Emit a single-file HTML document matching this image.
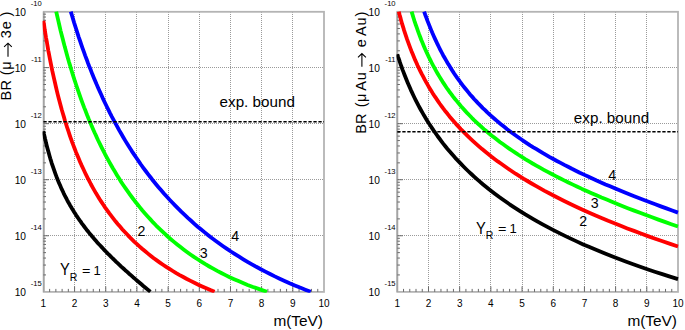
<!DOCTYPE html><html><head><meta charset="utf-8"><style>html,body{margin:0;padding:0;background:#fff;overflow:hidden}svg{display:block}</style></head><body>
<svg width="685" height="330" viewBox="0 0 685 330" font-family='"Liberation Sans", sans-serif'>
<rect width="685" height="330" fill="#fff"/>
<defs>
<clipPath id="cL"><rect x="42.60" y="10.8" width="282.20" height="282.00"/></clipPath>
<clipPath id="cR"><rect x="396.50" y="10.8" width="282.30" height="282.00"/></clipPath>
</defs>
<path d="M74.5 12V292M105.5 12V292M136.5 12V292M168.5 12V292M199.5 12V292M230.5 12V292M261.5 12V292M292.5 12V292M44 67.5H324.0M44 123.5H324.0M44 179.5H324.0M44 235.5H324.0" stroke="#9a9a9a" stroke-width="1" stroke-dasharray="1 1" fill="none"/>
<rect x="43.699999999999996" y="11.8" width="280.30" height="280.10" fill="none" stroke="#b4b4b4" stroke-width="1.8"/>
<path d="M43.699999999999996 11.8V291.9" stroke="#a4a4a4" stroke-width="1.6"/>
<path d="M49.64 291.9v-3M55.87 291.9v-3M62.11 291.9v-3M68.34 291.9v-3M80.81 291.9v-3M87.05 291.9v-3M93.28 291.9v-3M99.52 291.9v-3M111.99 291.9v-3M118.23 291.9v-3M124.46 291.9v-3M130.70 291.9v-3M143.17 291.9v-3M149.40 291.9v-3M155.64 291.9v-3M161.88 291.9v-3M174.35 291.9v-3M180.58 291.9v-3M186.82 291.9v-3M193.05 291.9v-3M205.52 291.9v-3M211.76 291.9v-3M218.00 291.9v-3M224.23 291.9v-3M236.70 291.9v-3M242.94 291.9v-3M249.17 291.9v-3M255.41 291.9v-3M267.88 291.9v-3M274.12 291.9v-3M280.35 291.9v-3M286.59 291.9v-3M299.06 291.9v-3M305.29 291.9v-3M311.53 291.9v-3M317.76 291.9v-3M74.58 291.9v-5.5M105.76 291.9v-5.5M136.93 291.9v-5.5M168.11 291.9v-5.5M199.29 291.9v-5.5M230.47 291.9v-5.5M261.64 291.9v-5.5M292.82 291.9v-5.5M43.4 274.93h2.6M43.4 265.06h2.6M43.4 258.06h2.6M43.4 252.63h2.6M43.4 248.19h2.6M43.4 244.44h2.6M43.4 241.19h2.6M43.4 238.32h2.6M43.4 218.89h2.6M43.4 209.02h2.6M43.4 202.02h2.6M43.4 196.59h2.6M43.4 192.15h2.6M43.4 188.40h2.6M43.4 185.15h2.6M43.4 182.28h2.6M43.4 162.85h2.6M43.4 152.98h2.6M43.4 145.98h2.6M43.4 140.55h2.6M43.4 136.11h2.6M43.4 132.36h2.6M43.4 129.11h2.6M43.4 126.24h2.6M43.4 106.81h2.6M43.4 96.94h2.6M43.4 89.94h2.6M43.4 84.51h2.6M43.4 80.07h2.6M43.4 76.32h2.6M43.4 73.07h2.6M43.4 70.20h2.6M43.4 50.77h2.6M43.4 40.90h2.6M43.4 33.90h2.6M43.4 28.47h2.6M43.4 24.03h2.6M43.4 20.28h2.6M43.4 17.03h2.6M43.4 14.16h2.6M43.4 235.76h5.5M43.4 179.72h5.5M43.4 123.68h5.5M43.4 67.64h5.5" stroke="#6a6a6a" stroke-width="1" fill="none"/>
<g clip-path="url(#cL)" fill="none" stroke-width="3.8" stroke-linejoin="round">
<path d="M43.4 131.2 L43.9 133.7 L44.5 136.1 L45.0 138.5 L45.6 140.8 L46.1 143.1 L46.7 145.4 L47.3 147.7 L47.9 149.9 L48.5 152.1 L49.1 154.3 L49.7 156.5 L50.3 158.6 L51.0 160.7 L51.6 162.8 L52.3 164.9 L53.0 166.9 L53.7 168.9 L54.4 170.9 L55.1 172.9 L55.8 174.8 L56.5 176.7 L57.3 178.7 L58.0 180.5 L58.8 182.4 L59.6 184.3 L60.4 186.1 L61.2 187.9 L62.0 189.7 L62.9 191.5 L63.7 193.3 L64.6 195.1 L65.5 196.8 L66.4 198.5 L67.3 200.3 L68.2 202.0 L69.2 203.7 L70.1 205.4 L71.1 207.0 L72.1 208.7 L73.1 210.3 L74.1 212.0 L75.2 213.6 L76.2 215.3 L77.3 216.9 L78.4 218.5 L79.5 220.1 L80.7 221.7 L81.8 223.3 L83.0 224.9 L84.2 226.5 L85.4 228.1 L86.6 229.7 L87.9 231.3 L89.2 232.9 L90.5 234.4 L91.8 236.0 L93.1 237.6 L94.5 239.2 L95.9 240.8 L97.3 242.4 L98.7 244.0 L100.2 245.5 L101.7 247.1 L103.2 248.7 L104.7 250.4 L106.3 252.0 L107.8 253.6 L109.5 255.2 L111.1 256.8 L112.8 258.5 L114.5 260.1 L116.2 261.8 L117.9 263.4 L119.7 265.1 L121.5 266.8 L123.4 268.5 L125.2 270.2 L127.2 271.9 L129.1 273.7 L131.1 275.4 L133.1 277.2 L135.1 278.9 L137.2 280.7 L139.3 282.5 L141.4 284.3 L143.6 286.2 L145.8 288.0 L148.1 289.9 L150.4 291.8" stroke="#000"/>
<path d="M43.4 20.8 L44.1 25.1 L44.7 29.4 L45.4 33.7 L46.1 38.0 L46.9 42.2 L47.6 46.4 L48.3 50.6 L49.1 54.7 L49.9 58.8 L50.7 62.9 L51.5 66.9 L52.3 70.9 L53.2 74.9 L54.1 78.9 L55.0 82.8 L55.9 86.7 L56.8 90.6 L57.7 94.4 L58.7 98.3 L59.7 102.0 L60.7 105.8 L61.7 109.5 L62.8 113.2 L63.9 116.9 L64.9 120.5 L66.1 124.1 L67.2 127.7 L68.4 131.2 L69.6 134.8 L70.8 138.3 L72.0 141.7 L73.3 145.1 L74.6 148.5 L75.9 151.9 L77.3 155.3 L78.7 158.6 L80.1 161.9 L81.5 165.1 L83.0 168.3 L84.5 171.5 L86.0 174.7 L87.6 177.8 L89.2 180.9 L90.8 184.0 L92.5 187.1 L94.2 190.1 L95.9 193.1 L97.7 196.0 L99.5 199.0 L101.4 201.9 L103.3 204.7 L105.2 207.6 L107.2 210.4 L109.2 213.2 L111.3 215.9 L113.4 218.6 L115.5 221.3 L117.7 224.0 L120.0 226.6 L122.2 229.2 L124.6 231.8 L127.0 234.3 L129.4 236.9 L131.9 239.3 L134.4 241.8 L137.0 244.2 L139.7 246.6 L142.4 249.0 L145.2 251.3 L148.0 253.6 L150.9 255.9 L153.8 258.2 L156.8 260.4 L159.9 262.6 L163.0 264.7 L166.2 266.8 L169.5 268.9 L172.8 271.0 L176.2 273.1 L179.7 275.1 L183.3 277.0 L186.9 279.0 L190.6 280.9 L194.4 282.8 L198.3 284.7 L202.2 286.5 L206.3 288.3 L210.4 290.1 L214.6 291.8" stroke="#f00"/>
<path d="M56.2 11.6 L57.1 15.5 L58.0 19.4 L58.9 23.3 L59.8 27.2 L60.7 31.1 L61.7 35.0 L62.7 38.8 L63.7 42.7 L64.7 46.6 L65.8 50.5 L66.8 54.3 L67.9 58.2 L69.0 62.1 L70.2 65.9 L71.3 69.8 L72.5 73.6 L73.7 77.4 L74.9 81.2 L76.2 85.0 L77.5 88.8 L78.8 92.6 L80.1 96.4 L81.4 100.1 L82.8 103.9 L84.2 107.6 L85.7 111.3 L87.1 115.0 L88.6 118.7 L90.2 122.4 L91.7 126.1 L93.3 129.7 L94.9 133.3 L96.6 136.9 L98.2 140.5 L100.0 144.1 L101.7 147.6 L103.5 151.2 L105.3 154.7 L107.2 158.1 L109.1 161.6 L111.0 165.0 L113.0 168.5 L115.0 171.8 L117.0 175.2 L119.1 178.6 L121.2 181.9 L123.4 185.2 L125.6 188.4 L127.9 191.7 L130.2 194.9 L132.5 198.0 L134.9 201.2 L137.4 204.3 L139.9 207.4 L142.4 210.5 L145.0 213.5 L147.7 216.5 L150.4 219.4 L153.1 222.4 L155.9 225.3 L158.8 228.1 L161.7 230.9 L164.7 233.7 L167.7 236.5 L170.8 239.2 L174.0 241.9 L177.2 244.5 L180.5 247.1 L183.9 249.7 L187.3 252.2 L190.8 254.7 L194.3 257.1 L198.0 259.5 L201.7 261.9 L205.4 264.2 L209.3 266.5 L213.2 268.7 L217.2 270.9 L221.3 273.0 L225.5 275.1 L229.7 277.2 L234.1 279.2 L238.5 281.1 L243.0 283.0 L247.6 284.9 L252.3 286.7 L257.1 288.4 L262.0 290.1 L266.9 291.8" stroke="#0f0"/>
<path d="M70.8 11.6 L71.9 15.3 L73.0 18.9 L74.1 22.6 L75.3 26.3 L76.5 30.0 L77.6 33.6 L78.8 37.3 L80.1 41.0 L81.3 44.6 L82.6 48.3 L83.9 51.9 L85.2 55.6 L86.6 59.2 L87.9 62.9 L89.3 66.5 L90.8 70.1 L92.2 73.8 L93.7 77.4 L95.2 81.0 L96.7 84.6 L98.3 88.2 L99.9 91.8 L101.5 95.3 L103.1 98.9 L104.8 102.5 L106.5 106.0 L108.3 109.6 L110.0 113.1 L111.8 116.6 L113.7 120.1 L115.6 123.6 L117.5 127.1 L119.4 130.6 L121.4 134.0 L123.4 137.5 L125.4 140.9 L127.5 144.3 L129.7 147.7 L131.8 151.1 L134.0 154.4 L136.3 157.8 L138.6 161.1 L140.9 164.5 L143.3 167.8 L145.7 171.0 L148.2 174.3 L150.7 177.5 L153.2 180.8 L155.8 184.0 L158.5 187.2 L161.2 190.3 L163.9 193.5 L166.7 196.6 L169.6 199.7 L172.5 202.8 L175.5 205.9 L178.5 208.9 L181.5 211.9 L184.7 214.9 L187.8 217.9 L191.1 220.8 L194.4 223.8 L197.7 226.7 L201.2 229.5 L204.7 232.4 L208.2 235.2 L211.8 238.0 L215.5 240.7 L219.3 243.5 L223.1 246.2 L227.0 248.9 L230.9 251.5 L235.0 254.1 L239.1 256.7 L243.3 259.3 L247.5 261.8 L251.9 264.3 L256.3 266.8 L260.8 269.2 L265.4 271.6 L270.1 274.0 L274.8 276.4 L279.7 278.7 L284.6 280.9 L289.6 283.2 L294.8 285.4 L300.0 287.6 L305.3 289.7 L310.7 291.8" stroke="#00f"/>
</g>
<path d="M428.5 12V292M459.5 12V292M490.5 12V292M522.5 12V292M553.5 12V292M584.5 12V292M615.5 12V292M646.5 12V292M398 67.5H678.0M398 123.5H678.0M398 179.5H678.0M398 235.5H678.0" stroke="#9a9a9a" stroke-width="1" stroke-dasharray="1 1" fill="none"/>
<rect x="397.3" y="11.8" width="280.70" height="280.10" fill="none" stroke="#b4b4b4" stroke-width="1.8"/>
<path d="M397.3 11.8V291.9" stroke="#a4a4a4" stroke-width="1.6"/>
<path d="M403.54 291.9v-3M409.78 291.9v-3M416.01 291.9v-3M422.25 291.9v-3M434.73 291.9v-3M440.96 291.9v-3M447.20 291.9v-3M453.44 291.9v-3M465.92 291.9v-3M472.15 291.9v-3M478.39 291.9v-3M484.63 291.9v-3M497.10 291.9v-3M503.34 291.9v-3M509.58 291.9v-3M515.82 291.9v-3M528.29 291.9v-3M534.53 291.9v-3M540.77 291.9v-3M547.01 291.9v-3M559.48 291.9v-3M565.72 291.9v-3M571.96 291.9v-3M578.20 291.9v-3M590.67 291.9v-3M596.91 291.9v-3M603.15 291.9v-3M609.38 291.9v-3M621.86 291.9v-3M628.10 291.9v-3M634.34 291.9v-3M640.57 291.9v-3M653.05 291.9v-3M659.29 291.9v-3M665.52 291.9v-3M671.76 291.9v-3M428.49 291.9v-5.5M459.68 291.9v-5.5M490.87 291.9v-5.5M522.06 291.9v-5.5M553.24 291.9v-5.5M584.43 291.9v-5.5M615.62 291.9v-5.5M646.81 291.9v-5.5M397.3 274.93h2.6M397.3 265.06h2.6M397.3 258.06h2.6M397.3 252.63h2.6M397.3 248.19h2.6M397.3 244.44h2.6M397.3 241.19h2.6M397.3 238.32h2.6M397.3 218.89h2.6M397.3 209.02h2.6M397.3 202.02h2.6M397.3 196.59h2.6M397.3 192.15h2.6M397.3 188.40h2.6M397.3 185.15h2.6M397.3 182.28h2.6M397.3 162.85h2.6M397.3 152.98h2.6M397.3 145.98h2.6M397.3 140.55h2.6M397.3 136.11h2.6M397.3 132.36h2.6M397.3 129.11h2.6M397.3 126.24h2.6M397.3 106.81h2.6M397.3 96.94h2.6M397.3 89.94h2.6M397.3 84.51h2.6M397.3 80.07h2.6M397.3 76.32h2.6M397.3 73.07h2.6M397.3 70.20h2.6M397.3 50.77h2.6M397.3 40.90h2.6M397.3 33.90h2.6M397.3 28.47h2.6M397.3 24.03h2.6M397.3 20.28h2.6M397.3 17.03h2.6M397.3 14.16h2.6M397.3 235.76h5.5M397.3 179.72h5.5M397.3 123.68h5.5M397.3 67.64h5.5" stroke="#6a6a6a" stroke-width="1" fill="none"/>
<g clip-path="url(#cR)" fill="none" stroke-width="3.8" stroke-linejoin="round">
<path d="M397.3 54.2 L398.1 56.8 L399.0 59.3 L399.8 61.9 L400.7 64.5 L401.6 67.0 L402.5 69.6 L403.5 72.1 L404.5 74.7 L405.5 77.3 L406.5 79.8 L407.6 82.4 L408.7 84.9 L409.8 87.5 L410.9 90.1 L412.1 92.6 L413.3 95.2 L414.5 97.7 L415.8 100.3 L417.1 102.8 L418.4 105.4 L419.8 108.0 L421.2 110.5 L422.7 113.1 L424.1 115.6 L425.7 118.2 L427.2 120.7 L428.8 123.3 L430.5 125.8 L432.2 128.4 L433.9 130.9 L435.7 133.4 L437.5 136.0 L439.4 138.5 L441.3 141.1 L443.2 143.6 L445.3 146.2 L447.3 148.7 L449.5 151.2 L451.7 153.8 L453.9 156.3 L456.2 158.9 L458.6 161.4 L461.0 163.9 L463.5 166.5 L466.0 169.0 L468.6 171.5 L471.3 174.0 L474.1 176.6 L476.9 179.1 L479.8 181.6 L482.8 184.2 L485.9 186.7 L489.0 189.2 L492.2 191.7 L495.5 194.2 L498.9 196.8 L502.4 199.3 L506.0 201.8 L509.6 204.3 L513.4 206.8 L517.3 209.3 L521.2 211.8 L525.3 214.4 L529.5 216.9 L533.7 219.4 L538.1 221.9 L542.6 224.4 L547.3 226.9 L552.0 229.4 L556.9 231.9 L561.9 234.4 L567.0 236.9 L572.3 239.4 L577.7 241.9 L583.2 244.4 L588.9 246.8 L594.8 249.3 L600.8 251.8 L606.9 254.3 L613.2 256.8 L619.7 259.3 L626.3 261.7 L633.2 264.2 L640.2 266.7 L647.3 269.2 L654.7 271.7 L662.3 274.1 L670.0 276.6 L678.0 279.1" stroke="#000"/>
<path d="M398.8 11.6 L399.6 14.8 L400.5 17.9 L401.3 21.1 L402.2 24.2 L403.2 27.3 L404.1 30.4 L405.1 33.4 L406.1 36.4 L407.1 39.4 L408.2 42.4 L409.3 45.4 L410.4 48.3 L411.5 51.2 L412.7 54.1 L413.9 57.0 L415.1 59.9 L416.4 62.7 L417.6 65.5 L419.0 68.4 L420.3 71.1 L421.7 73.9 L423.2 76.7 L424.6 79.4 L426.1 82.1 L427.7 84.9 L429.2 87.6 L430.9 90.2 L432.5 92.9 L434.2 95.6 L436.0 98.2 L437.8 100.8 L439.6 103.5 L441.5 106.1 L443.4 108.7 L445.4 111.3 L447.5 113.8 L449.5 116.4 L451.7 119.0 L453.9 121.5 L456.1 124.1 L458.5 126.6 L460.8 129.1 L463.3 131.6 L465.8 134.1 L468.3 136.6 L470.9 139.1 L473.6 141.6 L476.4 144.1 L479.2 146.6 L482.1 149.1 L485.1 151.5 L488.2 154.0 L491.3 156.5 L494.5 158.9 L497.8 161.4 L501.2 163.8 L504.7 166.3 L508.2 168.7 L511.9 171.2 L515.6 173.7 L519.5 176.1 L523.4 178.6 L527.4 181.0 L531.6 183.5 L535.8 185.9 L540.2 188.4 L544.6 190.9 L549.2 193.3 L553.9 195.8 L558.8 198.3 L563.7 200.7 L568.8 203.2 L574.0 205.7 L579.3 208.2 L584.8 210.7 L590.4 213.2 L596.2 215.7 L602.1 218.2 L608.1 220.8 L614.4 223.3 L620.7 225.8 L627.3 228.4 L634.0 230.9 L640.9 233.5 L647.9 236.1 L655.2 238.7 L662.6 241.3 L670.2 243.9 L678.0 246.5" stroke="#f00"/>
<path d="M411.6 11.6 L412.6 14.9 L413.6 18.2 L414.6 21.4 L415.7 24.6 L416.8 27.7 L417.9 30.8 L419.0 33.9 L420.2 37.0 L421.3 40.0 L422.6 43.0 L423.8 45.9 L425.0 48.8 L426.3 51.7 L427.7 54.6 L429.0 57.4 L430.4 60.2 L431.8 63.0 L433.2 65.7 L434.7 68.4 L436.2 71.1 L437.7 73.7 L439.3 76.4 L440.9 79.0 L442.5 81.6 L444.2 84.1 L445.9 86.7 L447.6 89.2 L449.4 91.7 L451.3 94.1 L453.1 96.6 L455.0 99.0 L457.0 101.4 L459.0 103.8 L461.0 106.2 L463.1 108.6 L465.2 110.9 L467.3 113.2 L469.6 115.5 L471.8 117.8 L474.1 120.1 L476.5 122.3 L478.9 124.6 L481.4 126.8 L483.9 129.1 L486.5 131.3 L489.1 133.5 L491.8 135.7 L494.6 137.8 L497.4 140.0 L500.2 142.2 L503.2 144.3 L506.2 146.5 L509.2 148.6 L512.4 150.8 L515.6 152.9 L518.8 155.0 L522.2 157.1 L525.6 159.3 L529.1 161.4 L532.6 163.5 L536.3 165.6 L540.0 167.7 L543.8 169.8 L547.7 171.9 L551.7 174.0 L555.7 176.1 L559.9 178.3 L564.1 180.4 L568.4 182.5 L572.9 184.6 L577.4 186.7 L582.0 188.9 L586.7 191.0 L591.6 193.2 L596.5 195.3 L601.5 197.5 L606.7 199.6 L611.9 201.8 L617.3 204.0 L622.8 206.2 L628.4 208.4 L634.2 210.6 L640.0 212.8 L646.0 215.1 L652.1 217.3 L658.4 219.6 L664.8 221.9 L671.3 224.2 L678.0 226.5" stroke="#0f0"/>
<path d="M424.1 11.6 L425.2 14.7 L426.4 17.8 L427.5 20.9 L428.7 23.9 L429.9 26.9 L431.1 29.9 L432.3 32.8 L433.6 35.7 L434.9 38.6 L436.2 41.4 L437.5 44.2 L438.9 47.0 L440.3 49.8 L441.7 52.5 L443.1 55.2 L444.6 57.8 L446.1 60.4 L447.6 63.0 L449.2 65.6 L450.8 68.2 L452.4 70.7 L454.0 73.2 L455.7 75.7 L457.4 78.1 L459.2 80.5 L460.9 83.0 L462.7 85.3 L464.6 87.7 L466.5 90.0 L468.4 92.4 L470.3 94.7 L472.3 96.9 L474.3 99.2 L476.4 101.4 L478.5 103.7 L480.7 105.9 L482.8 108.1 L485.1 110.2 L487.3 112.4 L489.7 114.6 L492.0 116.7 L494.4 118.8 L496.9 120.9 L499.4 123.0 L501.9 125.1 L504.5 127.1 L507.1 129.2 L509.8 131.2 L512.6 133.3 L515.4 135.3 L518.2 137.3 L521.1 139.3 L524.1 141.3 L527.1 143.3 L530.1 145.3 L533.3 147.3 L536.5 149.2 L539.7 151.2 L543.0 153.2 L546.4 155.1 L549.8 157.1 L553.3 159.0 L556.9 161.0 L560.6 162.9 L564.3 164.9 L568.1 166.8 L571.9 168.8 L575.8 170.7 L579.8 172.7 L583.9 174.6 L588.1 176.5 L592.3 178.5 L596.6 180.5 L601.0 182.4 L605.5 184.4 L610.1 186.3 L614.7 188.3 L619.5 190.3 L624.3 192.3 L629.2 194.3 L634.2 196.3 L639.4 198.3 L644.6 200.3 L649.9 202.3 L655.3 204.3 L660.8 206.4 L666.4 208.4 L672.2 210.5 L678.0 212.6" stroke="#00f"/>
</g>
<path d="M43.4 121.7H324.0" stroke="#000" stroke-width="1.5" stroke-dasharray="3.3 1.7"/>
<path d="M397.3 131.8H678.0" stroke="#000" stroke-width="1.5" stroke-dasharray="3.3 1.7"/>
<text x="43.40" y="306.90" font-size="10.0" text-anchor="middle">1</text>
<text x="74.58" y="306.90" font-size="10.0" text-anchor="middle">2</text>
<text x="105.76" y="306.90" font-size="10.0" text-anchor="middle">3</text>
<text x="136.93" y="306.90" font-size="10.0" text-anchor="middle">4</text>
<text x="168.11" y="306.90" font-size="10.0" text-anchor="middle">5</text>
<text x="199.29" y="306.90" font-size="10.0" text-anchor="middle">6</text>
<text x="230.47" y="306.90" font-size="10.0" text-anchor="middle">7</text>
<text x="261.64" y="306.90" font-size="10.0" text-anchor="middle">8</text>
<text x="292.82" y="306.90" font-size="10.0" text-anchor="middle">9</text>
<text x="324.00" y="306.90" font-size="10.0" text-anchor="middle">10</text>
<text x="26.00" y="15.55" font-size="10.2" text-anchor="end">10</text>
<text x="41.70" y="5.80" font-size="7.6" text-anchor="end">-10</text>
<text x="26.00" y="71.59" font-size="10.2" text-anchor="end">10</text>
<text x="41.70" y="61.84" font-size="7.6" text-anchor="end">-11</text>
<text x="26.00" y="127.63" font-size="10.2" text-anchor="end">10</text>
<text x="41.70" y="117.88" font-size="7.6" text-anchor="end">-12</text>
<text x="26.00" y="183.67" font-size="10.2" text-anchor="end">10</text>
<text x="41.70" y="173.92" font-size="7.6" text-anchor="end">-13</text>
<text x="26.00" y="239.71" font-size="10.2" text-anchor="end">10</text>
<text x="41.70" y="229.96" font-size="7.6" text-anchor="end">-14</text>
<text x="26.00" y="295.75" font-size="10.2" text-anchor="end">10</text>
<text x="41.70" y="286.00" font-size="7.6" text-anchor="end">-15</text>
<text transform="translate(323.00 326.30) scale(1.1 1)" font-size="14" text-anchor="end">m(TeV)</text>
<text x="397.30" y="306.90" font-size="10.0" text-anchor="middle">1</text>
<text x="428.49" y="306.90" font-size="10.0" text-anchor="middle">2</text>
<text x="459.68" y="306.90" font-size="10.0" text-anchor="middle">3</text>
<text x="490.87" y="306.90" font-size="10.0" text-anchor="middle">4</text>
<text x="522.06" y="306.90" font-size="10.0" text-anchor="middle">5</text>
<text x="553.24" y="306.90" font-size="10.0" text-anchor="middle">6</text>
<text x="584.43" y="306.90" font-size="10.0" text-anchor="middle">7</text>
<text x="615.62" y="306.90" font-size="10.0" text-anchor="middle">8</text>
<text x="646.81" y="306.90" font-size="10.0" text-anchor="middle">9</text>
<text x="678.00" y="306.90" font-size="10.0" text-anchor="middle">10</text>
<text x="379.90" y="15.55" font-size="10.2" text-anchor="end">10</text>
<text x="395.60" y="5.80" font-size="7.6" text-anchor="end">-10</text>
<text x="379.90" y="71.59" font-size="10.2" text-anchor="end">10</text>
<text x="395.60" y="61.84" font-size="7.6" text-anchor="end">-11</text>
<text x="379.90" y="127.63" font-size="10.2" text-anchor="end">10</text>
<text x="395.60" y="117.88" font-size="7.6" text-anchor="end">-12</text>
<text x="379.90" y="183.67" font-size="10.2" text-anchor="end">10</text>
<text x="395.60" y="173.92" font-size="7.6" text-anchor="end">-13</text>
<text x="379.90" y="239.71" font-size="10.2" text-anchor="end">10</text>
<text x="395.60" y="229.96" font-size="7.6" text-anchor="end">-14</text>
<text x="379.90" y="295.75" font-size="10.2" text-anchor="end">10</text>
<text x="395.60" y="286.00" font-size="7.6" text-anchor="end">-15</text>
<text transform="translate(677.00 326.30) scale(1.1 1)" font-size="14" text-anchor="end">m(TeV)</text>
<text transform="translate(11.4 100.55) rotate(-90)" font-size="14.5">B</text>
<text transform="translate(11.4 90.55) rotate(-90)" font-size="14.5">R</text>
<text transform="translate(11.4 75.32) rotate(-90)" font-size="14.5">(</text>
<text transform="translate(11.4 69.78) rotate(-90)" font-size="14.5">μ</text>
<text transform="translate(11.4 38.29) rotate(-90)" font-size="14.5">3</text>
<text transform="translate(11.4 29.27) rotate(-90)" font-size="14.5">e</text>
<text transform="translate(11.4 16.56) rotate(-90)" font-size="14.5">)</text>
<path d="M8 56.8V43.4M4.1 46.9L8 43.2L11.8 46.9" stroke="#000" stroke-width="1.1" fill="none"/>
<text transform="translate(365.5 133.65) rotate(-90)" font-size="14.5">B</text>
<text transform="translate(365.5 124.00) rotate(-90)" font-size="14.5">R</text>
<text transform="translate(365.5 107.22) rotate(-90)" font-size="14.5">(</text>
<text transform="translate(365.5 101.93) rotate(-90)" font-size="14.5">μ</text>
<text transform="translate(365.5 90.69) rotate(-90)" font-size="14.5">A</text>
<text transform="translate(365.5 80.32) rotate(-90)" font-size="14.5">u</text>
<text transform="translate(365.5 47.22) rotate(-90)" font-size="14.5">e</text>
<text transform="translate(365.5 36.09) rotate(-90)" font-size="14.5">A</text>
<text transform="translate(365.5 25.42) rotate(-90)" font-size="14.5">u</text>
<text transform="translate(365.5 16.56) rotate(-90)" font-size="14.5">)</text>
<path d="M361.9 66.7V53.7M358 57.3L361.9 53.5L365.9 57.3" stroke="#000" stroke-width="1.1" fill="none"/>
<text transform="translate(219.56 106.50) scale(1.05 1)" font-size="14.5">exp. bound</text>
<text transform="translate(573.86 123.30) scale(1.05 1)" font-size="14.5">exp. bound</text>
<text transform="translate(59.98 275.00) scale(0.93 1)" font-size="15.8">Y</text>
<text x="69.74" y="280.60" font-size="10.5">R</text>
<text transform="translate(82.09 274.80) scale(1.2 1)" font-size="12">=</text>
<text x="93.61" y="274.80" font-size="13">1</text>
<text transform="translate(475.88 233.50) scale(0.93 1)" font-size="15.8">Y</text>
<text x="485.64" y="239.10" font-size="10.5">R</text>
<text transform="translate(497.99 233.30) scale(1.2 1)" font-size="12">=</text>
<text x="509.51" y="233.30" font-size="13">1</text>
<text x="137.49" y="235.70" font-size="14.2">2</text>
<text x="199.76" y="257.90" font-size="14.2">3</text>
<text x="231.37" y="241.40" font-size="14.2">4</text>
<text x="579.29" y="225.70" font-size="14.2">2</text>
<text x="590.76" y="208.30" font-size="14.2">3</text>
<text x="608.37" y="179.80" font-size="14.2">4</text>
</svg></body></html>
